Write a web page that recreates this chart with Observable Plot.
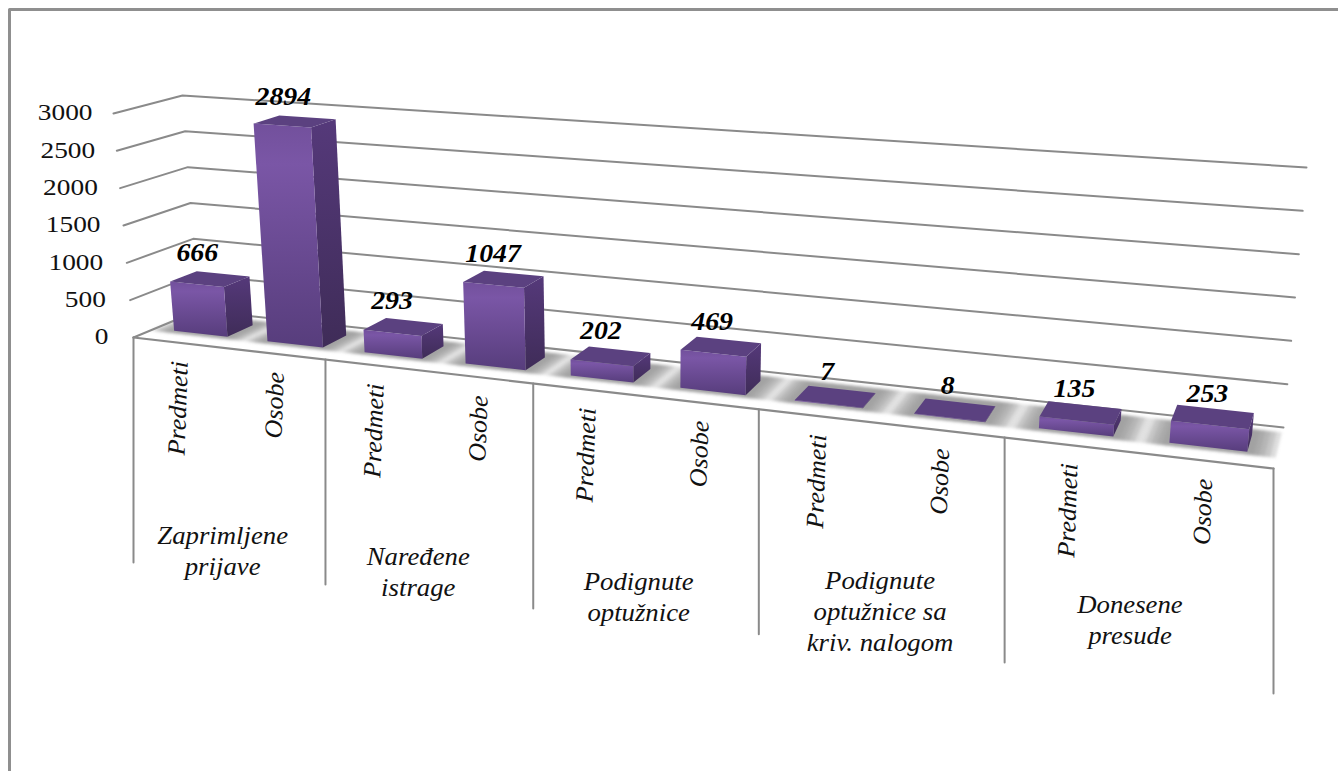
<!DOCTYPE html>
<html>
<head>
<meta charset="utf-8">
<script src="https://cdn.jsdelivr.net/npm/d3@7"></script>
<script src="https://cdn.jsdelivr.net/npm/@observablehq/plot@0.6"></script>
<style>
html,body{margin:0;padding:0;background:#fff;overflow:hidden}
svg{display:block}
</style>
</head>
<body>
<div id="chart"></div>
<script>
// ---- data ----
const groups = ["Zaprimljene prijave", "Naređene istrage", "Podignute optužnice", "Podignute optužnice sa kriv. nalogom", "Donesene presude"];
const groupLines = [["Zaprimljene","prijave"],["Naređene","istrage"],["Podignute","optužnice"],["Podignute","optužnice sa","kriv. nalogom"],["Donesene","presude"]];
const series = ["Predmeti", "Osobe"];
const predmeti = [666, 293, 202, 7, 135];
const osobe = [2894, 1047, 469, 8, 253];
const yTicks = [0, 500, 1000, 1500, 2000, 2500, 3000];

// ---- perspective of the 3D box (screen corners of the value/category/depth cube) ----
const vMax = 3000, nGroups = groups.length;
const corners = {
  fb0:[133,337], fb1:[1273,468], bb0:[198,310], bb1:[1283,427],
  ft0:[113,113], ft1:[1297,197], bt0:[182,95],  bt1:[1306,167]
};
const q = 1.2346;
const lerp = (a,b,t)=>[a[0]+(b[0]-a[0])*t, a[1]+(b[1]-a[1])*t];
const tOf = u => { const s=u/nGroups; return s/(s+q*(1-s)); };
function project(u,d,v){
  const t=tOf(u);
  const bottom=lerp(lerp(corners.fb0,corners.fb1,t),lerp(corners.bb0,corners.bb1,t),d);
  const top=lerp(lerp(corners.ft0,corners.ft1,t),lerp(corners.bt0,corners.bt1,t),d);
  return lerp(bottom,top,v/vMax);
}
const barStart=0.105, barWidth=0.288, depth0=0.33, depth1=0.74;
const shadowPads=[0.105,0.085,0.065,0.045,0.025];

const bars=[];
groups.forEach((g,i)=>series.forEach((s,j)=>{
  const value=(j===0?predmeti:osobe)[i];
  const u0=i+j*0.5+barStart, u1=u0+barWidth;
  bars.push({group:g,series:s,i,j,value,u0,u1,id:i*2+j});
}));

function polys(faceFn){
  const out=[];
  bars.forEach(b=>faceFn(b).forEach(([u,d,v])=>{
    const [x,y]=project(u,d,v); out.push({id:b.id,x,y});
  }));
  return out;
}
const frontFace=polys(b=>[[b.u0,depth0,0],[b.u1,depth0,0],[b.u1,depth0,b.value],[b.u0,depth0,b.value]]);
const sideFace=polys(b=>[[b.u1,depth0,0],[b.u1,depth1,0],[b.u1,depth1,b.value],[b.u1,depth0,b.value]]);
const topFace=polys(b=>[[b.u0,depth0,b.value],[b.u1,depth0,b.value],[b.u1,depth1,b.value],[b.u0,depth1,b.value]]);
const shadow=shadowPads.flatMap((p,k)=>polys(b=>[[b.u0-p,0.26,0],[b.u1+p,0.26,0],[b.u1+p,0.88,0],[b.u0-p,0.88,0]]).map(r=>({...r,id:r.id+"-"+k})));

const grid=[];
yTicks.forEach(v=>[[0,0],[0,1],[nGroups,1]].forEach(([u,d])=>{
  const [x,y]=project(u,d,v); grid.push({v,x,y});
}));

const floorFront=[0,nGroups].map(u=>{const [x,y]=project(u,0,0);return {x,y};});
const dropLen=225;
const dividers=[];
d3.range(nGroups+1).forEach(i=>{
  const [x,y]=project(i,0,0);
  dividers.push({i,x,y},{i,x,y:y+dropLen});
});

const tickText=yTicks.map(v=>{const [x,y]=project(0,0,v);return {label:String(v),x:x-21-(1-v/vMax)*4,y:y-1};});
const seriesText=bars.map(b=>{
  const [x,y]=project((b.u0+b.u1)/2+0.005,0,0);
  return {label:b.series,x:x-1,y:y+18};
});
const groupShift=[[-5,188],[-9,186],[-5,186],[1,158],[-6,152]];
const lineGap=31;
const groupText=[];
groupLines.forEach((lines,i)=>{
  const [x,y]=project(i+0.5,0,0);
  lines.forEach((label,k)=>groupText.push({label,x:x+groupShift[i][0],y:y+groupShift[i][1]+k*lineGap}));
});
const valueText=bars.map(b=>{
  const [x,y]=project((b.u0+b.u1)/2,depth1,b.value);
  const f=tOf(b.u0);
  return {label:String(b.value),x:x-26+f*20,y:y-21+f*6};
});

const frame=[{x:9,y:771},{x:9,y:9},{x:1338,y:9}];

const defs=()=>{
  const svg=d3.create("svg:g");
  const d=svg.append("defs");
  const lg=(id,stops)=>{
    const g=d.append("linearGradient").attr("id",id).attr("x1",0).attr("y1",0).attr("x2",0).attr("y2",1);
    stops.forEach(([o,c])=>g.append("stop").attr("offset",o).attr("stop-color",c));
  };
  lg("fr",[[0,"#72509c"],[0.18,"#7a56a6"],[1,"#573d7c"]]);
  lg("si",[[0,"#55397a"],[1,"#3f2c58"]]);
  d.append("filter").attr("id","blur").attr("x","-5%").attr("y","-20%").attr("width","110%").attr("height","140%")
    .append("feGaussianBlur").attr("stdDeviation",1.6);
  return svg.node();
};

const ink="#111";
const face=(data,fill,extra={})=>Plot.line(data,{x:"x",y:"y",z:"id",curve:"linear-closed",fill,stroke:"none",...extra});

const chart=Plot.plot({
  width:1338,height:771,margin:0,
  x:{domain:[0,1338],range:[0,1338],axis:null},
  y:{domain:[0,771],range:[0,771],axis:null},
  style:{background:"#fff"},
  marks:[
    defs,
    Plot.line(frame,{x:"x",y:"y",stroke:"#8f8f8f",strokeWidth:3}),
    Plot.line(grid,{x:"x",y:"y",z:"v",stroke:"#8a8a8a",strokeWidth:2}),
    face(shadow,"#8f8f8f",{fillOpacity:0.3,className:"floor-shadow"}),
    Plot.line(floorFront,{x:"x",y:"y",stroke:"#8a8a8a",strokeWidth:2.2}),
    Plot.line(dividers,{x:"x",y:"y",z:"i",stroke:"#8a8a8a",strokeWidth:2}),
    face(sideFace,"url(#si)"),
    face(frontFace,"url(#fr)"),
    face(topFace,"#5b4180"),
    Plot.text(tickText,{x:"x",y:"y",text:"label",textAnchor:"end",fontSize:24,fontFamily:"Liberation Serif",fill:ink,className:"tick-label"}),
    Plot.text(seriesText,{x:"x",y:"y",text:"label",textAnchor:"end",rotate:-88,fontSize:25,fontStyle:"italic",fontFamily:"Liberation Serif",fill:ink,className:"series-label"}),
    Plot.text(groupText,{x:"x",y:"y",text:"label",fontSize:25,fontStyle:"italic",fontFamily:"Liberation Serif",fill:ink,className:"group-label"}),
    Plot.text(valueText,{x:"x",y:"y",text:"label",fontSize:26,fontStyle:"italic",fontWeight:"bold",fontFamily:"Liberation Serif",fill:"#000",className:"value-label"})
  ]
});
document.getElementById("chart").appendChild(chart);
// Office-style text is drawn slightly wider than the font's natural width
const stretch=(sel,k)=>chart.querySelectorAll(sel+" text").forEach(t=>{
  t.setAttribute("textLength",t.getComputedTextLength()*k);
  t.setAttribute("lengthAdjust","spacingAndGlyphs");
});
stretch(".tick-label",1.14);
stretch(".series-label",1.04);
stretch(".group-label",1.07);
stretch(".value-label",1.07);
chart.querySelectorAll("g.floor-shadow").forEach(p=>p.setAttribute("filter","url(#blur)"));
</script>
</body>
</html>
